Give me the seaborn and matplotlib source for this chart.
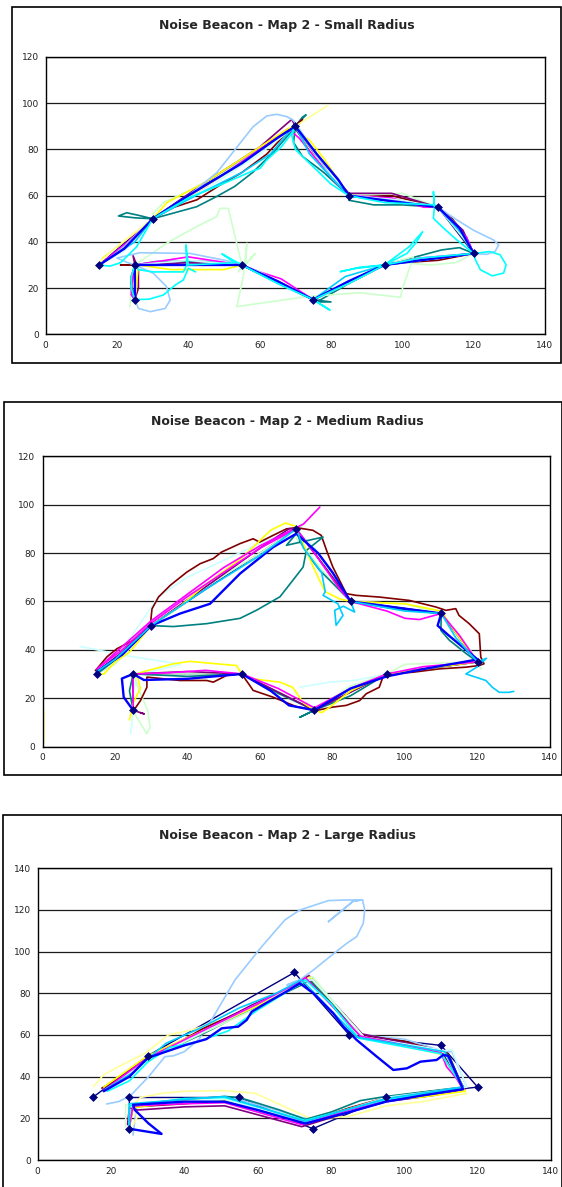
import matplotlib
matplotlib.use("Agg")
import matplotlib.pyplot as plt
import matplotlib.patches as mpatches
import seaborn as sns

# beacon waypoints, same route on all three maps
WAY_X = [15, 30, 70, 85, 110, 120, 95, 75, 55, 25, 25]
WAY_Y = [30, 50, 90, 60, 55, 35, 30, 15, 30, 30, 15]

# ---- Map 2, small radius: traced runs (x, y) ----
S_TEAL = [(15, 30), (20, 35), (25, 42), (30, 50), (26, 51.5), (22.7, 52.6), (20.4, 51.2), (25, 50.4), (30, 50),
          (42.3, 55.2), (47.9, 59.6), (53, 64), (58, 70), (64, 79), (69, 88), (72, 94), (73, 95), (70, 90),
          (69.5, 83), (72, 77), (78, 70), (85, 60), (85, 58), (92, 56), (100, 56), (110, 55), (114, 48),
          (120, 35), (116, 37.5), (111, 36.5), (100, 32), (95, 30), (85, 22), (76, 14), (80, 14), (75, 15),
          (64, 23), (55, 30), (45, 31.5), (31, 31.5), (25, 30), (24, 22), (25, 15)]
S_DARKRED = [(15, 30), (20, 36), (25, 42), (30, 50), (36, 55), (42.4, 58.2), (48.9, 64.6), (55, 70), (62, 78),
             (68, 88), (72, 93), (70, 89), (75, 78), (80, 68), (85, 60), (97, 60), (110, 55), (114, 50), (117, 44),
             (120, 35), (110, 32), (100, 31), (95, 30), (85, 22), (75, 15), (65, 23), (55, 30), (40, 30), (25, 30),
             (21, 30), (25, 30), (24, 25), (24, 20), (25, 15)]
S_PURPLE = [(15, 30), (22, 38), (30, 50), (45, 66), (60, 81), (69, 93), (70, 90), (75, 79), (85, 61), (97, 61),
            (110, 55), (117, 45), (120, 35), (100, 31), (95, 30), (75, 15), (55, 30), (40, 31), (25, 30),
            (24.5, 34), (26, 28), (26, 20), (25, 15)]
S_MAGENTA = [(15, 30), (23, 40), (30, 50), (45, 64), (60, 80), (68, 89), (71, 85), (80, 68), (85, 60), (97, 59),
             (106, 55), (110, 55), (118, 42), (120, 35), (105, 33), (95, 30), (85, 23), (75, 15), (66, 24),
             (60, 27), (55, 30), (40, 33.5), (25, 30), (24, 20), (24, 17), (25, 15)]
S_YELLOW = [(15, 29), (16, 33), (21, 39), (30, 50), (34, 57), (45, 66), (57, 78), (68, 89), (70, 90), (72, 86),
            (74, 84), (78, 76), (85, 60), (100, 57), (110, 55), (116, 46), (120, 35), (105, 32), (95, 30),
            (85, 23), (75, 15), (65, 23), (55, 30), (50, 28), (35, 28), (26, 30), (25, 15)]
S_LIGHTYELLOW = [(79, 99), (70, 90), (58, 77), (45, 64), (30, 50), (20, 38), (15, 31), (14, 29)]
S_SKY = [(15, 30), (25, 40), (30, 50), (42, 60), (55, 70), (63, 78), (69, 89), (70, 90), (74, 78), (80, 68),
         (85, 60), (100, 57), (110, 55), (117, 43), (120, 35), (105, 32), (95, 30), (84, 25), (75, 15), (64, 23),
         (55, 30), (40, 30), (25, 30), (25, 15)]
S_TURQ = [(15, 30), (22, 36), (30, 50), (45, 63), (60, 78), (70, 90), (77, 75), (85, 60), (100, 58), (110, 55),
          (118, 40), (120, 35), (100, 31), (95, 30), (85, 22), (75, 15), (60, 27), (55, 30), (40, 32), (25, 30),
          (25, 15)]
S_BLUE = [(15, 30), (22, 37), (30, 50), (40, 60), (55, 74), (65, 85), (70, 90), (76, 78), (82, 67), (85, 60),
          (100, 57), (110, 55), (116, 46), (120, 35), (105, 32), (95, 30), (85, 23), (75, 15), (65, 23), (55, 30),
          (40, 30), (25, 30), (25, 22), (25, 15)]
S_LIGHTGREEN = [(30, 52), (33, 57), (40, 62), (50, 70), (60, 80), (68, 88), (70, 90), (75, 78), (85, 60),
                (100, 61), (110, 55), (115, 48), (120, 35), (115, 31), (108, 30), (100, 31), (95, 30),
                (103.1, 33.6), (99.9, 19.2), (99.5, 16), (88, 18), (73.2, 16.3), (53.6, 12), (55.4, 24.9),
                (56.4, 39.4), (56, 30), (58.7, 34.9), (54, 27), (55, 30), (51.2, 54.5), (48.9, 54.5),
                (47.9, 50.9), (42.3, 46.6), (33.9, 39.4), (26, 31), (25, 30), (24, 20), (23.6, 11.9)]
S_PALEBLUE = [(15, 30), (18, 33), (22, 38), (30, 50), (40, 60), (48, 70), (54.5, 82.7), (58.2, 89.9),
              (62, 94.5), (64.8, 95.2), (67.6, 94.2), (69.5, 92.5), (75, 80), (80, 68), (85, 60), (97, 58),
              (110, 55), (115.3, 49.5), (120, 45), (125.6, 40.8), (127, 38.7), (126, 35.8), (123.6, 34.6),
              (120, 35), (110, 33), (95, 30), (85, 23), (75, 15), (65, 22), (54.5, 30.7), (40.5, 35),
              (26.4, 35.3), (20, 33), (23, 31), (25, 30), (30.2, 26.4), (33.9, 20.6), (34.9, 14.8),
              (33.5, 11.2), (29.3, 9.8), (26, 11.2), (25, 14.8)]
S_CYAN = [(15, 30), (18, 29.5), (21, 31), (25.5, 37.9), (30, 50), (40, 59), (48, 64), (54, 68), (58.2, 70.8),
          (60.1, 71.8), (62, 75.5), (66, 81), (69, 87), (70, 90), (69, 86), (70, 80), (74, 74), (80, 65),
          (85, 60), (95, 57), (109, 56), (108.7, 61.7), (109, 55), (108.7, 50.2), (111.1, 46.6), (115.3, 40.8),
          (120, 35), (124.6, 35.8), (127.4, 34.4), (129.1, 30.1), (128.4, 26.5), (125.2, 25.3), (121.9, 27.9),
          (120.5, 32.2), (120, 35), (105, 33), (95, 30), (101.3, 35), (104, 40), (105.7, 44.4), (102, 38),
          (95, 30), (86.9, 28.5), (82.6, 27.1), (88, 29), (95, 30), (85, 22), (75, 15), (79.7, 10.5), (77, 13),
          (75, 15), (65, 22), (55, 30), (49.4, 34.8), (53, 31), (40, 30), (39.3, 38.7), (39.6, 30), (38.6, 27),
          (30, 27), (26, 28), (25, 30), (24, 25), (24, 20), (25, 15), (29, 15.2), (33, 17), (36.3, 21.3),
          (38.6, 23.5), (40, 28.6), (42, 27)]

# ---- Map 2, medium radius ----
M_DARKRED = [(14.6, 31.4), (17.8, 37.1), (20.5, 40.4), (25.1, 44), (26.9, 46.6), (29.7, 49.4), (30.2, 56.9),
             (32, 61.8), (35.2, 66.6), (39.8, 72.1), (43.5, 75.6), (47.1, 77.7), (49.4, 80.4), (54.5, 83.9),
             (58.1, 85.9), (59.9, 84.5), (63.6, 87.3), (67.3, 90), (70, 90.5), (74.6, 89.4), (76.9, 87.3),
             (78.7, 79.7), (80.1, 74.2), (83.8, 63.2), (86.5, 62.5), (92.9, 61.8), (101.2, 60.4), (108.5, 57.7),
             (111.3, 56.3), (114, 57), (114.9, 54.2), (117.7, 50.8), (120.5, 46.6), (120.9, 37), (121.8, 34.2),
             (120.5, 33.5), (116.8, 32.8), (109.5, 32.1), (102.1, 30.7), (94.8, 30), (93.9, 28.7), (92.9, 24.5),
             (89.3, 21.8), (87.5, 19), (83.8, 17), (80.1, 16.3), (75.5, 14.9), (70, 16.5), (63.6, 20.4),
             (58.1, 23.2), (57.2, 25.2), (54.9, 30.1), (50.8, 29.4), (47.1, 26.6), (45.3, 27.3), (37.9, 27.3),
             (28.8, 28.7), (28.8, 24.5), (27, 18.9), (25.1, 14.8)]
M_TEAL = [(15, 30), (22, 38), (30, 50), (36.1, 49.6), (45.3, 50.8), (54.5, 53), (59.1, 56.4), (65.5, 61.9),
          (69.1, 68.8), (71.9, 74.2), (72.8, 81.1), (77.4, 86.6), (67.3, 83.2), (70, 88), (70, 90), (71, 85),
          (73.7, 78.3), (76.5, 72.8), (79.2, 68.8), (85, 60), (97, 57), (110, 55), (109.9, 48), (112.2, 44),
          (116.8, 38.5), (120, 35), (105, 32), (95, 30), (85, 21), (75, 15), (71, 12.1), (75, 15), (65, 22),
          (55, 30), (40, 29), (25, 30), (24, 23), (25, 15)]
M_PURPLE = [(15, 31), (22, 39), (30, 50), (45, 66), (60, 82), (68, 90), (70, 90), (76, 78), (85, 60), (100, 57),
            (110, 55), (115, 45), (120, 35), (105, 32), (95, 30), (75, 15), (55, 30), (40, 31), (25, 30),
            (25, 15), (28, 13.5), (27, 14)]
M_MAGENTA = [(25, 15), (25, 30), (35, 30.5), (45, 31.5), (55, 30), (60, 27), (65, 24), (75, 16), (85, 24),
             (95, 30), (105, 33), (120, 35), (115, 46), (110, 55), (104, 52.5), (100, 53), (95, 56), (85, 60),
             (82, 65), (75, 80), (70, 90), (60, 82), (50, 72), (40, 62), (30, 51), (22, 40), (15, 32), (30, 52),
             (40, 63), (50, 74), (60, 83), (68, 89), (72, 92), (76.5, 99)]
M_YELLOW = [(15, 30), (17, 30), (20, 35), (24, 39), (30, 50), (38, 58), (45, 67), (55, 78), (63, 89.5),
            (67, 92.4), (70, 91), (73, 80), (76, 70), (78, 64), (82, 61), (85, 60), (100, 59), (110, 56),
            (114, 47), (120, 35), (105, 32), (95, 30), (85, 23), (79, 16), (77, 14), (75, 15), (72, 18),
            (69, 24.5), (65.5, 26.6), (58, 28), (55, 30), (53.5, 33.5), (48, 34.2), (40.7, 35.2), (36.1, 34.2),
            (28, 31), (26, 30), (27, 24), (25, 18), (24, 11)]
M_STUB = [(0.4, 2), (0.4, 15)]
M_LIGHTGREEN = [(15, 30), (20, 34), (30, 50), (45, 66), (60, 80), (70, 90), (72, 92.5), (70, 86), (80, 68),
                (85, 60), (100, 59), (110, 55), (118, 40), (121, 32), (120, 35), (100, 34), (95, 30), (85, 25),
                (75, 15), (55, 30), (25, 30), (27, 22), (29, 15), (29.7, 8), (28.8, 5.3), (26, 12), (25, 15)]
M_TURQ = [(10.4, 41.4), (22.4, 37.7), (31.5, 35.6), (38, 34), (30, 31), (26, 30), (25, 22), (25, 15),
          (24.3, 5.3)]
M_TURQ2 = [(15, 30), (22, 40), (32, 62), (40, 70), (50, 77), (60, 84), (70, 90), (75, 82), (85, 60), (110, 55),
           (120, 35), (95, 30), (86.5, 27.4), (79.2, 26.6), (71, 24.5)]
M_BLUE = [(15, 31), (22, 38), (30, 50), (38, 55), (46.2, 59), (54.5, 71.5), (63.6, 82.4), (70, 88), (76, 80),
          (80, 72), (85, 60), (100, 57), (110, 55), (109, 50), (112, 46), (120, 36), (105, 32), (95, 29),
          (85, 24), (75, 15), (68, 17), (63, 23), (55, 30), (40, 28), (28, 27.5), (25, 30), (21.9, 28.1),
          (22.4, 20.4), (25, 15)]
M_SKY = [(15, 31), (20, 36), (30, 50), (45, 65), (60, 79), (70, 90), (72, 82), (77, 72), (78, 64), (77.4, 62.5),
         (81.5, 59), (82.9, 54.2), (81, 50.1), (80.6, 56.3), (83, 58), (86.1, 55.6), (85, 60), (100, 56),
         (110, 55), (114, 45), (120, 35), (122.5, 36.5), (120, 33), (116.8, 30), (122.3, 27.3), (124.1, 24.5),
         (126, 22.4), (128.7, 22.4), (130, 22.8)]

# ---- Map 2, large radius ----
L_PALEBLUE = [(18.8, 26.9), (22, 28), (25.2, 30.7), (30.2, 39.9), (34.7, 49.6), (37, 50), (40, 52), (44, 58),
              (47.4, 67.2), (53.8, 86.4), (61.1, 102.4), (67.4, 115.2), (71.5, 120), (79.3, 124.5),
              (84.3, 124.8), (88.6, 124.8), (86.1, 124.3), (79.3, 114.4), (86.1, 124.3), (88.6, 124.8),
              (89.2, 120), (88.8, 113.6), (87, 107.2), (84.3, 104), (79.7, 97.6), (75.2, 91.2), (71.5, 86.4),
              (68, 84), (72, 87), (74, 88), (82, 72), (88, 60), (100, 58), (111, 52), (113, 52), (117, 35),
              (110, 33), (95, 29), (75, 19), (55, 29), (27, 26), (26, 12)]
L_DARKRED = [(17.5, 34.5), (22, 39), (30, 49), (35, 53), (45, 63), (55, 71), (65, 78), (72, 85), (74, 86),
             (80, 76), (88, 60), (100, 57), (110, 52), (112, 51), (116, 34.5), (105, 32.5), (95, 30), (85, 25),
             (73, 18), (60, 24), (51, 28.5), (40, 27), (26, 25.5), (25, 16)]
L_PURPLE = [(18, 33), (30, 49.5), (44, 61), (58, 74), (70, 84), (74, 88.5), (88.5, 60.5), (110, 52.5),
            (116.5, 34), (108, 31), (95, 28), (85, 23), (72, 16), (51, 26), (40, 25.5), (27.4, 24), (25, 25),
            (24.5, 17)]
L_TEAL = [(19, 34), (30, 48.5), (45, 60.5), (60, 74), (72, 84), (74, 87), (88, 59.5), (110, 52), (112, 50.5),
          (116, 35), (95, 30.5), (88, 28.5), (80, 23), (73, 19.5), (66, 24), (55, 30), (51, 30.5), (40, 29),
          (25, 26.5), (25, 16)]
L_MAGENTA = [(18, 33.5), (30, 49), (45, 62), (60, 75), (72, 86), (73, 87.5), (88, 59.5), (110, 51.5),
             (111.5, 44.8), (114.2, 39.2), (116, 34), (105, 31), (95, 28.5), (85, 24), (72, 17), (51, 27.5),
             (40, 27), (26, 26), (25, 16)]
L_YELLOW = [(18, 35), (30, 50), (45, 62), (60, 74), (71, 84.5), (74.3, 87.9), (89, 59), (110, 51), (116.5, 33),
            (104, 30), (95, 29), (85, 24), (74, 18), (51, 29), (40, 28.5), (26, 25), (25, 16)]
L_LIGHTYELLOW = [(15.2, 35.2), (17.9, 40.8), (22.9, 45.6), (29.3, 51.2), (35.6, 60), (42, 62.4), (50, 67),
                 (60, 75), (70, 83), (74, 88), (86, 62), (89, 60), (110, 50.5), (117, 32), (105, 28), (95, 26),
                 (85, 21), (75, 19.5), (69.3, 24), (59.3, 32), (51.1, 33.3), (40, 33), (33.8, 32), (28, 30),
                 (26.5, 27), (27, 20), (26, 17)]
L_CYAN = [(19, 33), (25, 38), (30, 47), (36, 54), (44, 57), (52, 62), (60, 72), (71, 84), (73, 86.5), (80, 75),
          (87.5, 58.5), (110, 51), (116, 35), (105, 31.5), (95, 29), (85, 24.5), (73, 19), (51, 30),
          (40, 29.5), (25, 26), (25, 16)]
L_SKY = [(18.5, 34), (26, 42), (31, 50), (35, 56), (44, 63), (55, 73), (65, 80), (72, 86.5), (87, 59),
         (111, 52), (116, 35), (95, 29.5), (73, 18.5), (51, 30.5), (25, 27), (25, 15)]
L_LIGHTGREEN = [(18, 33), (30, 48), (45, 61), (60, 73), (72, 85), (75, 88), (88.5, 59), (111, 51.5),
                (116, 34.5), (95, 29), (73, 17.5), (51, 29), (25, 26), (24, 26.5), (24, 16)]
L_TURQ = [(19, 33.5), (30, 49), (45, 61.5), (60, 75), (73, 86), (75, 86.5), (89, 59), (111, 52.5), (113, 53),
          (117, 35), (95, 30), (73, 18), (51, 29.5), (25, 26.5), (25, 17)]
L_BLUE = [(18, 33), (25, 40), (30, 49), (35, 52), (40, 55), (46, 58), (50.2, 63.2), (54.7, 64), (57, 67.2),
          (58.4, 71.2), (62, 75), (68, 81), (71.5, 84.8), (75.2, 80), (80.6, 70.4), (83.4, 64), (87, 57.6),
          (92.5, 49.6), (97, 43.2), (100.7, 44), (104.4, 47.2), (108.8, 48), (110.6, 50.4), (112, 50),
          (116, 34), (105, 31), (95, 28), (85, 23), (73, 17.5), (60, 24), (51, 28), (40, 28), (26, 26.5),
          (26.5, 24), (30.2, 17.6), (33.8, 12.5), (25, 15)]

COLORS = {
    "darkred": "#800000", "purple": "#800080", "teal": "#008080", "blue": "#0000FF",
    "magenta": "#FF00FF", "yellow": "#FFFF00", "lightyellow": "#FFFF99", "sky": "#00CCFF",
    "turq": "#CCFFFF", "lightgreen": "#CCFFCC", "paleblue": "#99CCFF", "cyan": "#00FFFF",
}

SMALL_RUNS = [("teal", S_TEAL), ("darkred", S_DARKRED), ("lightgreen", S_LIGHTGREEN), ("purple", S_PURPLE),
              ("magenta", S_MAGENTA), ("yellow", S_YELLOW), ("lightyellow", S_LIGHTYELLOW), ("turq", S_TURQ),
              ("paleblue", S_PALEBLUE), ("sky", S_SKY), ("blue", S_BLUE), ("cyan", S_CYAN)]
MEDIUM_RUNS = [("lightyellow", M_STUB), ("turq", M_TURQ), ("turq", M_TURQ2), ("lightgreen", M_LIGHTGREEN),
               ("darkred", M_DARKRED), ("teal", M_TEAL), ("purple", M_PURPLE), ("yellow", M_YELLOW),
               ("magenta", M_MAGENTA), ("blue", M_BLUE), ("sky", M_SKY)]
LARGE_RUNS = [("paleblue", L_PALEBLUE), ("lightyellow", L_LIGHTYELLOW), ("darkred", L_DARKRED),
              ("teal", L_TEAL), ("purple", L_PURPLE), ("yellow", L_YELLOW), ("lightgreen", L_LIGHTGREEN),
              ("turq", L_TURQ), ("magenta", L_MAGENTA), ("cyan", L_CYAN), ("sky", L_SKY), ("blue", L_BLUE)]

W, H = 562, 1187
NAVY = "#000080"


def fig_rect(left, top, right, bottom):
    return [left / W, 1 - bottom / H, (right - left) / W, (bottom - top) / H]


def draw_panel(fig, runs, ymax, title, ax_px, box_px, title_y):
    bx = fig_rect(*box_px)
    fig.add_artist(mpatches.Rectangle((bx[0], bx[1]), bx[2], bx[3], transform=fig.transFigure,
                                      fill=False, ec="black", lw=1.2))
    fig.text(287 / W, 1 - title_y / H, title, ha="center", va="center", fontsize=9, fontweight="bold")

    ax = fig.add_axes(fig_rect(*ax_px))
    ax.yaxis.grid(True, color="#1a1a1a", lw=0.9)
    ax.set_axisbelow(True)

    # route line first, so the runs cover it
    sns.lineplot(x=WAY_X, y=WAY_Y, ax=ax, sort=False, estimator=None, color=NAVY, lw=1.0)
    for name, pts in runs:
        xs = [p[0] for p in pts]
        ys = [p[1] for p in pts]
        lw = 1.7 if name == "blue" else 1.2
        sns.lineplot(x=xs, y=ys, ax=ax, sort=False, estimator=None, color=COLORS[name], lw=lw)
    # waypoint markers on top
    sns.scatterplot(x=WAY_X, y=WAY_Y, ax=ax, color=NAVY, marker="D", s=16, edgecolor=NAVY, linewidth=0.5,
                    zorder=5)

    ax.set_xlim(0, 140)
    ax.set_ylim(0, ymax)
    ax.set_xticks(range(0, 141, 20))
    ax.set_yticks(range(0, ymax + 1, 20))
    ax.set_xlabel("")
    ax.set_ylabel("")
    for sp in ax.spines.values():
        sp.set_color("black")
        sp.set_linewidth(1.0)
    ax.tick_params(direction="out", length=3, width=0.8, color="black", labelsize=6.5,
                   labelcolor="#222222", pad=2)
    return ax


sns.set_style("white")
plt.rcParams["font.family"] = ["DejaVu Sans"]

fig = plt.figure(figsize=(W / 100, H / 100), dpi=100)

draw_panel(fig, SMALL_RUNS, 120, "Noise Beacon - Map 2 - Small Radius",
           (45.7, 57, 545, 334.3), (11.5, 7, 561, 363), 26)
draw_panel(fig, MEDIUM_RUNS, 120, "Noise Beacon - Map 2 - Medium Radius",
           (42.5, 456.3, 550, 746.5), (4, 401.7, 562, 775), 421)
draw_panel(fig, LARGE_RUNS, 140, "Noise Beacon - Map 2 - Large Radius",
           (37.7, 868.3, 551, 1160), (3, 815, 562, 1230), 835)

fig.savefig("out.png", dpi=100)
